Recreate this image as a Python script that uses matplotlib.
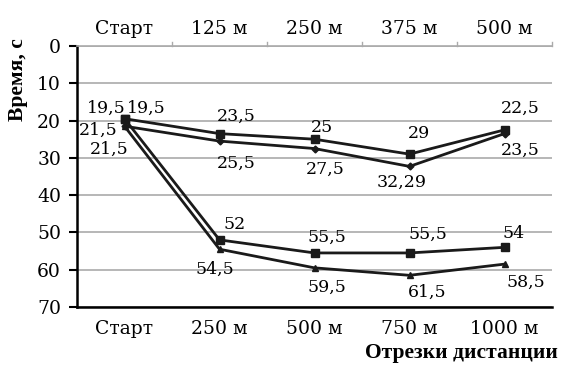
import matplotlib.pyplot as plt
import numpy as np

plt.rcParams['font.family'] = ['DejaVu Serif']

# данные
bottom_labels = ['Старт', '250 м', '500 м', '750 м', '1000 м']
top_labels = ['Старт', '125 м', '250 м', '375 м', '500 м']
short_sq = [19.5, 23.5, 25, 29, 22.5]
short_dm = [21.5, 25.5, 27.5, 32.29, 23.5]
long_sq = [19.5, 52, 55.5, 55.5, 54]
long_tr = [21.5, 54.5, 59.5, 61.5, 58.5]

x = np.arange(len(bottom_labels))

fig = plt.figure(figsize=(5.62, 3.65), dpi=100)
ax = fig.add_axes([77/562, 1-307/365, 475/562, 261/365])

c = '#1a1a1a'
ax.plot(x, short_sq, color=c, lw=2, marker='s', ms=6, zorder=3)
ax.plot(x, short_dm, color=c, lw=2, marker='D', ms=3.5, zorder=3)
ax.plot(x, long_sq, color=c, lw=2, marker='s', ms=6, zorder=3)
ax.plot(x, long_tr, color=c, lw=2, marker='^', ms=5, zorder=3)

ax.set_xlim(-0.5, 4.5)
ax.set_ylim(70, 0)
ax.set_yticks(range(0, 71, 10))
ax.set_xticks(x)
ax.set_xticklabels(bottom_labels)
ax.tick_params(axis='x', length=0, labelsize=13.5, pad=9)
ax.tick_params(axis='y', length=5.5, width=1.5, labelsize=13.5, pad=6)
ax.grid(axis='y', color='#aaaaaa', lw=1.2)
ax.set_axisbelow(True)
for s in ['left', 'bottom']:
    ax.spines[s].set_linewidth(1.8)
ax.spines['right'].set_visible(False)
ax.spines['top'].set_color('#aaaaaa')
ax.spines['top'].set_linewidth(1.2)

top = ax.secondary_xaxis('top')
top.set_xticks(x)
top.set_xticklabels(top_labels)
top.tick_params(length=0, labelsize=13.5, pad=6)
top.spines['top'].set_visible(False)
for b in [0.5, 1.5, 2.5, 3.5, 4.5]:
    ax.plot([b, b], [0, -1.1], color='#aaaaaa', lw=1, clip_on=False)

def fmt(v):
    return ('%g' % v).replace('.', ',')

# смещения подписей в пикселях (x вправо, y вниз)
offs_short_sq = [(-18, -10), (17, -17), (7, -12), (9, -21), (16, -22)]
offs_short_dm = [(-26, 4), (17, 22), (11, 21), (-8, 16), (16, 17)]
offs_long_sq = [(22, -10), (15, -15), (12, -16), (18, -19), (9, -14)]
offs_long_tr = [(-15, 23), (-5, 20), (12, 19), (18, 17), (21, 18)]
for vals, offs in [(short_sq, offs_short_sq), (short_dm, offs_short_dm),
                   (long_sq, offs_long_sq), (long_tr, offs_long_tr)]:
    for xi, v, o in zip(x, vals, offs):
        ax.annotate(fmt(v), (xi, v), xytext=(o[0], -o[1]),
                    textcoords='offset pixels', ha='center', va='center',
                    fontsize=12.5, zorder=4)

lab = dict(fontsize=15.5, fontweight='bold', family='Liberation Serif')
fig.text(18/562, 1-80/365, 'Время, с', rotation=90, ha='center', va='center', **lab)
fig.text(558/562, 1-353/365, 'Отрезки дистанции', ha='right', va='center', **lab)

fig.savefig('out.png', dpi=100)
